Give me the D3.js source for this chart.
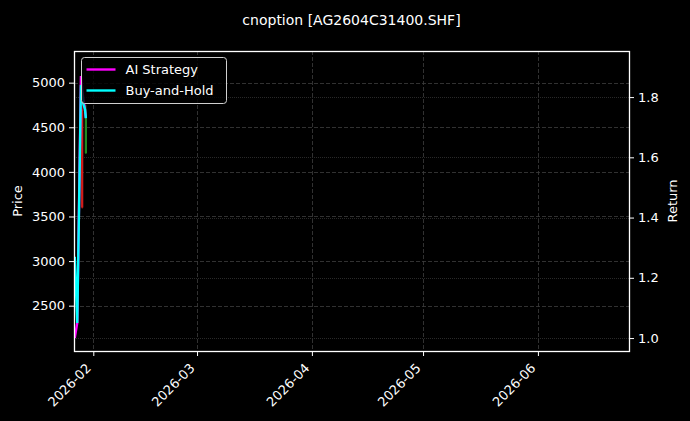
<!DOCTYPE html>
<html>
<head>
<meta charset="utf-8">
<script src="https://cdn.jsdelivr.net/npm/d3@7"></script>
<style>
  html, body { margin: 0; padding: 0; background: #000; }
  svg { display: block; font-family: "DejaVu Sans", sans-serif; }
</style>
</head>
<body>
<script>
var w = 690;
var h = 421;
var margin = {top: 51, right: 61, bottom: 70, left: 74};

// daily candles
var candleDates = ["2026-01-29", "2026-01-30"];
var opens  = [4700, 4210];
var highs  = [4850, 4750];
var lows   = [3590, 4200];
var closes = [3600, 4640];

// equity curves (right axis)
var lineTimes = ["2026-01-27T00:00", "2026-01-27T16:00", "2026-01-28T16:00", "2026-01-29T06:00", "2026-01-29T18:00", "2026-01-30T00:00"];
var aiReturn = [1.00, 1.05, 1.87, 1.80, 1.76, 1.73];
var bhReturn = [1.27, 1.05, 1.84, 1.78, 1.76, 1.73];

// axes
var xLimits = ["2026-01-26T19:00", "2026-06-25T14:00"];
var priceLimits = [1992, 5355];
var returnLimits = [0.957, 1.953];
var xTickLabels = ["2026-02", "2026-03", "2026-04", "2026-05", "2026-06"];
var priceTicks = [2500, 3000, 3500, 4000, 4500, 5000];
var returnTicks = [1.0, 1.2, 1.4, 1.6, 1.8];

var parseDay = d3.timeParse("%Y-%m-%d");
var parseTime = d3.timeParse("%Y-%m-%dT%H:%M");
var parseMonth = d3.timeParse("%Y-%m");

var x0 = margin.left, x1 = w - margin.right;
var y0 = h - margin.bottom, y1 = margin.top;

var xScale = d3.scaleTime()
	.domain(xLimits.map(parseTime))
	.range([x0, x1]);

var yPrice = d3.scaleLinear()
	.domain(priceLimits)
	.range([y0, y1]);

var yRet = d3.scaleLinear()
	.domain(returnLimits)
	.range([y0, y1]);

var svg = d3.select("body")
	.append("svg")
	.attr("width", w)
	.attr("height", h);

svg.append("rect")
	.attr("width", w)
	.attr("height", h)
	.attr("fill", "#000");

svg.append("clipPath").attr("id", "plotclip")
	.append("rect")
	.attr("x", x0).attr("y", y1)
	.attr("width", x1 - x0).attr("height", y0 - y1);

// grid
var grid = svg.append("g").attr("shape-rendering", "crispEdges");
grid.selectAll("line.vg")
	.data(xTickLabels)
	.enter()
	.append("line")
	.attr("x1", function(d){ return Math.round(xScale(parseMonth(d))) + 0.5; })
	.attr("x2", function(d){ return Math.round(xScale(parseMonth(d))) + 0.5; })
	.attr("y1", y1).attr("y2", y0)
	.attr("stroke", "#3d3d3d")
	.attr("stroke-width", 0.8)
	.attr("stroke-dasharray", "4,2");

grid.selectAll("line.pg")
	.data(priceTicks)
	.enter()
	.append("line")
	.attr("x1", x0).attr("x2", x1)
	.attr("y1", function(d){ return Math.round(yPrice(d)) + 0.5; })
	.attr("y2", function(d){ return Math.round(yPrice(d)) + 0.5; })
	.attr("stroke", "#3d3d3d")
	.attr("stroke-width", 0.8)
	.attr("stroke-dasharray", "4,2");

grid.selectAll("line.rg")
	.data(returnTicks)
	.enter()
	.append("line")
	.attr("x1", x0).attr("x2", x1)
	.attr("y1", function(d){ return Math.round(yRet(d)) + 0.5; })
	.attr("y2", function(d){ return Math.round(yRet(d)) + 0.5; })
	.attr("stroke", "#333")
	.attr("stroke-width", 0.8)
	.attr("stroke-dasharray", "1,1");

// candles
var plot = svg.append("g").attr("clip-path", "url(#plotclip)");
var dayPx = xScale(parseDay("2026-01-02")) - xScale(parseDay("2026-01-01"));
var bodyW = dayPx * 0.6;

var candles = plot.selectAll("g.candle")
	.data(candleDates)
	.enter()
	.append("g");

candles.append("line")
	.attr("x1", function(d){ return xScale(parseDay(d)); })
	.attr("x2", function(d){ return xScale(parseDay(d)); })
	.attr("y1", function(d, i){ return yPrice(highs[i]); })
	.attr("y2", function(d, i){ return yPrice(lows[i]); })
	.attr("stroke", function(d, i){ return closes[i] >= opens[i] ? "#1f8a1f" : "#d01c1c"; })
	.attr("stroke-width", 1);

candles.append("rect")
	.attr("x", function(d){ return xScale(parseDay(d)) - bodyW / 2; })
	.attr("y", function(d, i){ return yPrice(Math.max(opens[i], closes[i])); })
	.attr("width", bodyW)
	.attr("height", function(d, i){ return Math.abs(yPrice(opens[i]) - yPrice(closes[i])); })
	.attr("fill", function(d, i){ return closes[i] >= opens[i] ? "#1f8a1f" : "#d01c1c"; });

// lines
var times = lineTimes.map(parseTime);
var line = d3.line()
	.x(function(d, i){ return xScale(times[i]); })
	.y(function(d){ return yRet(d); });

plot.append("path")
	.datum(aiReturn)
	.attr("d", line)
	.attr("fill", "none")
	.attr("stroke", "#ff00ff")
	.attr("stroke-width", 2.4);

plot.append("path")
	.datum(bhReturn)
	.attr("d", line)
	.attr("fill", "none")
	.attr("stroke", "#00ffff")
	.attr("stroke-width", 2.4);

// axes
var xAxis = d3.axisBottom(xScale)
	.tickValues(xTickLabels.map(parseMonth))
	.tickFormat(d3.timeFormat("%Y-%m"))
	.tickSize(5)
	.tickPadding(4);

var yAxisL = d3.axisLeft(yPrice)
	.tickValues(priceTicks)
	.tickFormat(d3.format("d"))
	.tickSize(5)
	.tickPadding(4);

var yAxisR = d3.axisRight(yRet)
	.tickValues(returnTicks)
	.tickFormat(d3.format(".1f"))
	.tickSize(5)
	.tickPadding(4);

var gx = svg.append("g").attr("transform", "translate(0," + y0 + ")").call(xAxis);
gx.selectAll("text")
	.attr("text-anchor", "end")
	.attr("dy", null)
	.attr("y", 0)
	.attr("transform", "translate(-2,18) rotate(-45)");

var gl = svg.append("g").attr("transform", "translate(" + x0 + ",0)").call(yAxisL);
var gr = svg.append("g").attr("transform", "translate(" + x1 + ",0)").call(yAxisR);

[gx, gl, gr].forEach(function(g){
	g.select(".domain").remove();
	g.selectAll("line").attr("stroke", "#fff").attr("stroke-width", 1);
	g.selectAll("text").attr("fill", "#fff").attr("font-size", 13).attr("font-family", "DejaVu Sans");
});

// frame
svg.append("rect")
	.attr("x", x0 + 0.5).attr("y", y1 + 0.5)
	.attr("width", x1 - x0).attr("height", y0 - y1)
	.attr("fill", "none")
	.attr("stroke", "#fff")
	.attr("stroke-width", 1.3);

// labels
svg.append("text")
	.text("cnoption [AG2604C31400.SHF]")
	.attr("x", (x0 + x1) / 2)
	.attr("y", 25)
	.attr("text-anchor", "middle")
	.attr("fill", "#fff")
	.attr("font-size", 14);

svg.append("text")
	.text("Price")
	.attr("transform", "translate(22," + ((y0 + y1) / 2) + ") rotate(-90)")
	.attr("text-anchor", "middle")
	.attr("fill", "#fff")
	.attr("font-size", 13);

svg.append("text")
	.text("Return")
	.attr("transform", "translate(677," + ((y0 + y1) / 2) + ") rotate(-90)")
	.attr("text-anchor", "middle")
	.attr("fill", "#fff")
	.attr("font-size", 13);

// legend
var legendNames = ["AI Strategy", "Buy-and-Hold"];
var legendColors = ["#ff00ff", "#00ffff"];
var lg = svg.append("g").attr("transform", "translate(81.5,57.5)");
lg.append("rect")
	.attr("width", 145)
	.attr("height", 46)
	.attr("rx", 3)
	.attr("fill", "#000")
	.attr("fill-opacity", 0.8)
	.attr("stroke", "#d0d0d0")
	.attr("stroke-width", 1);

lg.selectAll("line")
	.data(legendNames)
	.enter()
	.append("line")
	.attr("x1", 5).attr("x2", 34)
	.attr("y1", function(d, i){ return 12 + i * 21; })
	.attr("y2", function(d, i){ return 12 + i * 21; })
	.attr("stroke", function(d, i){ return legendColors[i]; })
	.attr("stroke-width", 2.4);

lg.selectAll("text")
	.data(legendNames)
	.enter()
	.append("text")
	.text(function(d){ return d; })
	.attr("x", 44)
	.attr("y", function(d, i){ return 16.5 + i * 21; })
	.attr("fill", "#fff")
	.attr("font-size", 13);
</script>
</body>
</html>
